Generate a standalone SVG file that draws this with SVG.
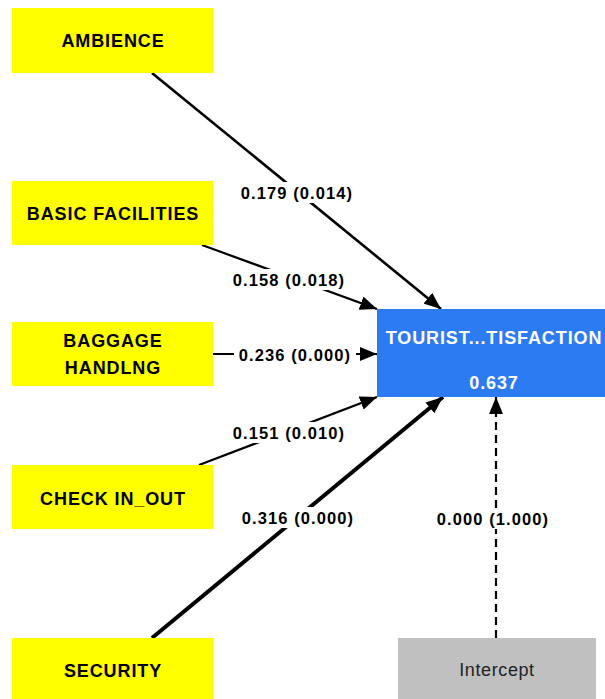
<svg xmlns="http://www.w3.org/2000/svg" width="605" height="699" viewBox="0 0 605 699">
<style>
.bg{fill:#ffffff}
.ind rect{fill:#ffff00}
.ind text,.lbl{font-family:"Liberation Sans",Arial,sans-serif;font-weight:bold;font-size:18px;letter-spacing:0.9px;text-anchor:middle;fill:#000}
.lbl{font-size:16.5px;letter-spacing:1.1px}
.lblbg{fill:#ffffff}
.edge{stroke:#000;fill:none;stroke-width:2.2}
#target rect{fill:#2d7bf2}
#target text{font-family:"Liberation Sans",Arial,sans-serif;font-weight:bold;font-size:18px;letter-spacing:0.9px;text-anchor:middle;fill:#fff}
#intercept rect{fill:#c0c0c0}
#intercept text{font-family:"Liberation Sans",Arial,sans-serif;font-size:18px;letter-spacing:0.6px;text-anchor:middle;fill:#222}
</style>
<defs>
<marker id="arr" markerUnits="userSpaceOnUse" markerWidth="18" markerHeight="14" refX="17" refY="7" orient="auto">
<path d="M0,0 L17,7 L0,14 Z" fill="#000"/>
</marker>
</defs>
<rect class="bg" x="0" y="0" width="605" height="699"/>
<g id="connectors">
<line class="edge" x1="152" y1="73" x2="441" y2="309" marker-end="url(#arr)" style="stroke-width:2.6"/>
<line class="edge" x1="202" y1="245" x2="377" y2="309" marker-end="url(#arr)"/>
<line class="edge" x1="213" y1="354" x2="377" y2="354" marker-end="url(#arr)"/>
<line class="edge" x1="199" y1="465" x2="377" y2="397" marker-end="url(#arr)"/>
<line class="edge" x1="152" y1="638" x2="443" y2="397" marker-end="url(#arr)" style="stroke-width:4"/>
<line class="edge" x1="496" y1="638" x2="496" y2="397" marker-end="url(#arr)" stroke-dasharray="8,5"/>
<rect class="lblbg" x="236" y="182" width="122" height="21"/>
<text class="lbl" x="297" y="199">0.179 (0.014)</text>
<rect class="lblbg" x="228" y="269" width="122" height="21"/>
<text class="lbl" x="289" y="286">0.158 (0.018)</text>
<rect class="lblbg" x="234" y="344" width="122" height="21"/>
<text class="lbl" x="295" y="361">0.236 (0.000)</text>
<rect class="lblbg" x="228" y="422" width="122" height="21"/>
<text class="lbl" x="289" y="439">0.151 (0.010)</text>
<rect class="lblbg" x="237" y="507" width="122" height="21"/>
<text class="lbl" x="298" y="524">0.316 (0.000)</text>
<rect class="lblbg" x="434" y="508" width="116" height="21"/>
<text class="lbl" x="493" y="525">0.000 (1.000)</text>
</g>
<g id="ambience" class="ind"><rect x="12" y="8" width="201" height="65"/><text x="113" y="47">AMBIENCE</text></g>
<g id="basic" class="ind"><rect x="12" y="181" width="201" height="64"/><text x="113" y="220">BASIC FACILITIES</text></g>
<g id="baggage" class="ind"><rect x="12" y="322" width="201" height="64"/><text x="113" y="347">BAGGAGE</text><text x="113" y="374">HANDLNG</text></g>
<g id="checkin" class="ind"><rect x="12" y="465" width="201" height="64"/><text x="113" y="505">CHECK IN_OUT</text></g>
<g id="security" class="ind"><rect x="12" y="638" width="201" height="64"/><text x="113" y="677">SECURITY</text></g>
<g id="target"><rect x="377" y="309" width="240" height="88"/><text x="494" y="344">TOURIST...TISFACTION</text><text x="494" y="389">0.637</text></g>
<g id="intercept"><rect x="398" y="638" width="198" height="64"/><text x="497" y="676">Intercept</text></g>
</svg>
